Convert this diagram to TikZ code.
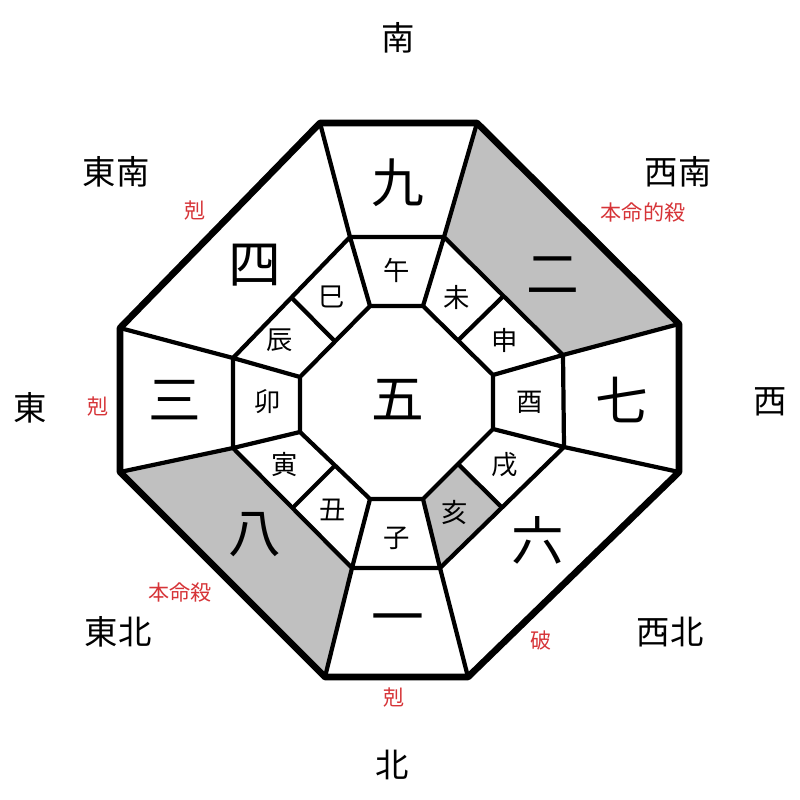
\documentclass[tikz,border=0pt]{standalone}
\usepackage{fontspec}
\newfontfamily\cjk{Noto Sans CJK JP}
\usepackage{tikz}
\usetikzlibrary{calc}
\definecolor{warnred}{RGB}{214,52,56}
\definecolor{shadegray}{RGB}{192,192,192}

\begin{document}
\begin{tikzpicture}[
		x=0.02cm, y=-0.02cm,
		ring/.style={line width=2.4pt, line join=miter},
		rim/.style={line width=3.8pt, line join=round},
		shade/.style={fill=shadegray},
		num/.style={font=\cjk\fontsize{30}{30}\selectfont},
		branch/.style={font=\cjk\fontsize{15}{15}\selectfont},
		dir/.style={font=\cjk\fontsize{19}{19}\selectfont},
		warn/.style={font=\cjk\fontsize{12}{12}\selectfont, text=warnred}
	]
	\useasboundingbox (0,0) rectangle (800,800);

	% outer, middle and inner octagons
	\coordinate (o1) at (320,123); \coordinate (o2) at (477,123);
	\coordinate (o3) at (679,324); \coordinate (o4) at (679,472);
	\coordinate (o5) at (468,677); \coordinate (o6) at (325,677);
	\coordinate (o7) at (120,472); \coordinate (o8) at (120,328);

	\coordinate (m1) at (350,237); \coordinate (m2) at (444,237);
	\coordinate (m3) at (563,355); \coordinate (m4) at (564,447);
	\coordinate (m5) at (440,568); \coordinate (m6) at (352,568);
	\coordinate (m7) at (233,448); \coordinate (m8) at (233,358);

	\coordinate (i1) at (370,306); \coordinate (i2) at (423,306);
	\coordinate (i3) at (493,375); \coordinate (i4) at (493,429);
	\coordinate (i5) at (423,499); \coordinate (i6) at (370,499);
	\coordinate (i7) at (300,432); \coordinate (i8) at (300,377);

	% shaded cells
	\fill[shade] (o2) -- (o3) -- (m3) -- (m2) -- cycle;
	\fill[shade] (o6) -- (o7) -- (m7) -- (m6) -- cycle;
	\fill[shade] (i5) -- (m5) -- ($(m4)!0.5!(m5)$) -- ($(i4)!0.5!(i5)$) -- cycle;

	\draw[ring] (m1) -- (m2) -- (m3) -- (m4) -- (m5) -- (m6) -- (m7) -- (m8) -- cycle;
	\draw[ring] (i1) -- (i2) -- (i3) -- (i4) -- (i5) -- (i6) -- (i7) -- (i8) -- cycle;
	\foreach \k in {1,...,8}
		\draw[ring] (o\k) -- (m\k) (m\k) -- (i\k);
	\foreach \a/\b in {2/3,4/5,6/7,8/1}
		\draw[ring] ($(m\a)!0.5!(m\b)$) -- ($(i\a)!0.5!(i\b)$);
	\draw[rim] (o1) -- (o2) -- (o3) -- (o4) -- (o5) -- (o6) -- (o7) -- (o8) -- cycle;

	% numbers
	\node[num] (n5) at (398,400) {五};
	\node[num] (n9) at (398,183) {九};
	\node[num] (n2) at (553,275) {二};
	\node[num] (n7) at (622,400) {七};
	\node[num] (n6) at (538,540) {六};
	\node[num] (n1) at (398,625) {一};
	\node[num] (n8) at (255,535) {八};
	\node[num] (n3) at (175,400) {三};
	\node[num] (n4) at (255,265) {四};

	% branches
	\node[branch] (wu)   at (397,270) {午};
	\node[branch] (wei)  at (457,297) {未};
	\node[branch] (shen) at (505,340) {申};
	\node[branch] (you)  at (530,402) {酉};
	\node[branch] (xu)   at (505,465) {戌};
	\node[branch] (hai)  at (455,512) {亥};
	\node[branch] (zi)   at (397,538) {子};
	\node[branch] (chou) at (333,510) {丑};
	\node[branch] (yin)  at (285,465) {寅};
	\node[branch] (mao)  at (268,402) {卯};
	\node[branch] (chen) at (280,340) {辰};
	\node[branch] (si)   at (332,297) {巳};

	% directions
	\node[dir] (south) at (398,38) {南};
	\node[dir] (se) at (116,172) {東南};
	\node[dir] (sw) at (678,172) {西南};
	\node[dir] (east) at (30,408) {東};
	\node[dir] (west) at (770,402) {西};
	\node[dir] (ne) at (118,632) {東北};
	\node[dir] (nw) at (670,632) {西北};
	\node[dir] (north) at (392,765) {北};

	% red marks
	\node[warn] (kse) at (195,211) {剋};
	\node[warn] (honsw) at (643,212) {本命的殺};
	\node[warn] (keast) at (98,407) {剋};
	\node[warn] (honne) at (180,592) {本命殺};
	\node[warn] (ha) at (541,640) {破};
	\node[warn] (knorth) at (394,698) {剋};
\end{tikzpicture}
\end{document}
